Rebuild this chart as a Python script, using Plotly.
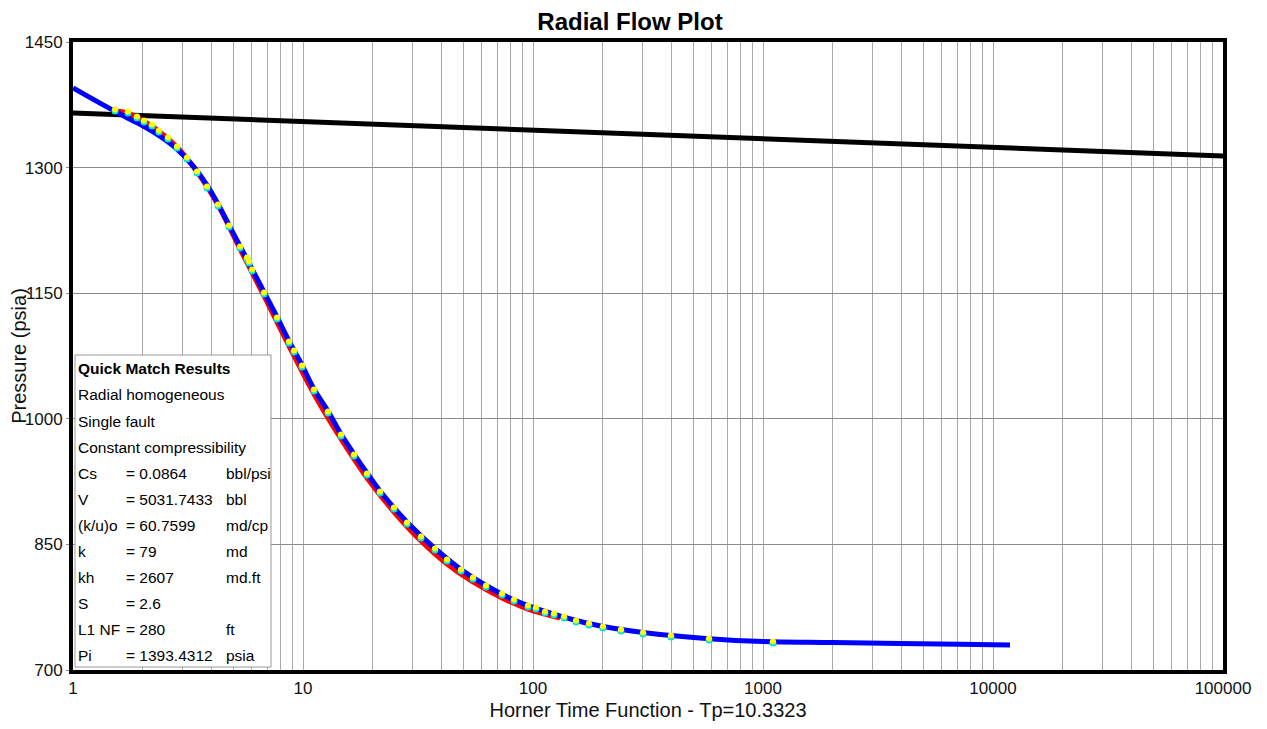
import plotly.graph_objects as go

# ---- data ----
# measured points (Horner time function, pressure psia)
data_x = [1.523, 1.735, 1.898, 2.035, 2.206, 2.365, 2.588, 2.833, 3.131, 3.461,
          3.825, 4.270, 4.767, 5.322, 5.707, 5.823, 6.001, 6.767, 7.709, 8.694,
          9.140, 9.901, 11.16, 12.84, 14.63, 16.66, 18.98, 21.62, 24.87, 28.33,
          32.59, 37.49, 42.27, 48.64, 54.83, 62.48, 73.32, 82.70, 95.13, 103.0,
          112.8, 123.4, 136.4, 153.8, 175.2, 201.5, 241.3, 300.9, 398.1, 582.5, 1105]
data_y = [1367.6, 1365.2, 1359.2, 1354.5, 1349.7, 1342.5, 1334.2, 1323.4, 1310.3, 1293.6,
          1275.6, 1254.1, 1229.1, 1204.0, 1190.8, 1186.1, 1176.5, 1149.0, 1119.2, 1090.5,
          1079.8, 1061.9, 1033.2, 1006.9, 979.5, 955.6, 932.9, 911.4, 892.3, 874.4,
          857.6, 843.3, 830.2, 818.2, 808.7, 799.1, 789.6, 782.4, 775.2, 772.9,
          768.1, 765.7, 762.1, 757.3, 753.7, 750.2, 746.6, 743.0, 739.4, 735.8, 732.2]

# model curve (blue)
model_x = [1, 1.310, 1.718, 2.056, 2.389, 2.833, 3.324, 3.825, 4.270, 4.767,
           5.322, 6.001, 6.767, 7.709, 8.694, 9.901, 11.16, 12.84, 14.63, 16.66,
           18.98, 21.62, 28.33, 37.49, 48.64, 62.48, 82.70, 112.8, 153.8, 201.5,
           300.9, 582.5, 1000, 2000, 3942, 7188, 11854]
model_y = [1395.1, 1377.0, 1359.5, 1348.5, 1337.5, 1322.0, 1302.0, 1279.0, 1256.5, 1231.4,
           1206.4, 1178.9, 1151.4, 1121.6, 1092.9, 1064.2, 1035.6, 1009.3, 981.8, 957.9,
           935.3, 913.8, 876.7, 845.1, 820.0, 800.9, 783.6, 769.9, 759.1, 751.9,
           744.8, 737.4, 734.0, 732.8, 731.6, 730.7, 729.8]

# red curve
red_x = [1.492, 1.735, 2.035, 2.365, 2.833, 3.461, 4.270, 5.322, 6.767, 8.694,
         11.16, 14.63, 18.98, 24.87, 32.59, 42.27, 54.83, 73.32, 95.13, 131.1]
red_y = [1368.0, 1365.0, 1355.5, 1343.5, 1324.5, 1295.0, 1255.3, 1202.8, 1146.7, 1086.9,
         1029.6, 975.9, 929.3, 888.7, 854.1, 826.6, 805.1, 786.0, 772.8, 762.1]

# straight semilog line
line_x = [1, 100000]
line_y = [1365.2, 1313.9]

# axes
x_decades = [1, 10, 100, 1000, 10000, 100000]
x_labels = ["1", "10", "100", "1000", "10000", "100000"]
y_ticks = [700, 850, 1000, 1150, 1300, 1450]
y_range = [700, 1450]

# results box
results_title = "Quick Match Results"
results_lines = ["Radial homogeneous", "Single fault", "Constant compressibility"]
param_names = ["Cs", "V", "(k/u)o", "k", "kh", "S", "L1 NF", "Pi"]
param_values = ["= 0.0864", "= 5031.7433", "= 60.7599", "= 79", "= 2607", "= 2.6", "= 280", "= 1393.4312"]
param_units = ["bbl/psi", "bbl", "md/cp", "md", "md.ft", "", "ft", "psia"]

# ---- figure ----
FONT = "Liberation Sans, Arial, sans-serif"
OFF = 8                      # page body margin of the browser
W, H = 1267 - 2 * OFF, 729 - 2 * OFF
PL, PT, PR, PB = 73, 42, 1223, 670   # plot frame in window pixels
L, T = PL - OFF, PT - OFF
R, B = W - (PR - OFF), H - (PB - OFF)
PW, PH = PR - PL, PB - PT
PSI_PER_PX = (y_range[1] - y_range[0]) / PH

tick_vals = []
tick_text = []
for d, lab in zip(x_decades, x_labels):
    tick_vals.append(d)
    tick_text.append(lab)
    if d < 100000:
        for m in range(2, 10):
            tick_vals.append(d * m)
            tick_text.append("")

fig = go.Figure()
fig.add_trace(go.Scatter(x=line_x, y=line_y, mode="lines",
                         line=dict(color="black", width=5), hoverinfo="skip"))
fig.add_trace(go.Scatter(x=red_x, y=red_y, mode="lines",
                         line=dict(color="#ff0000", width=5, shape="spline"), hoverinfo="skip"))
fig.add_trace(go.Scatter(x=model_x, y=model_y, mode="lines",
                         line=dict(color="#0000ff", width=5, shape="spline")))
# data points: cyan disc with a yellow disc drawn slightly higher on an overlay axis
fig.add_trace(go.Scatter(x=data_x, y=data_y, mode="markers",
                         marker=dict(size=7, color="#00e0e0", line=dict(width=0))))
fig.add_trace(go.Scatter(x=data_x, y=data_y, mode="markers", yaxis="y2",
                         marker=dict(size=6, color="#ffff00", line=dict(width=0))))

def px2x(px):
    return (px - PL) / PW

def py2y(py):
    return (PB - py) / PH

# results box
fig.add_shape(type="rect", xref="paper", yref="paper",
              x0=px2x(75), x1=px2x(271), y0=py2y(667), y1=py2y(355),
              fillcolor="white", line=dict(color="#999999", width=1), layer="above")

row_y = [368, 395, 421, 447, 473, 499, 525, 551, 577, 603, 629, 655]
ann = []
ann.append(dict(text="<b>" + results_title + "</b>", x=px2x(76), y=py2y(row_y[0])))
for i, t in enumerate(results_lines):
    ann.append(dict(text=t, x=px2x(76), y=py2y(row_y[1 + i])))
for i, (n, v, u) in enumerate(zip(param_names, param_values, param_units)):
    yy = py2y(row_y[4 + i])
    ann.append(dict(text=n, x=px2x(76), y=yy))
    ann.append(dict(text=v, x=px2x(124), y=yy))
    if u:
        ann.append(dict(text=u, x=px2x(224), y=yy))
for a in ann:
    a.update(xref="paper", yref="paper", xanchor="left", yanchor="middle",
             showarrow=False, font=dict(family=FONT, size=15.5, color="black"))
fig.update_layout(annotations=ann)

shift = 1.5 * PSI_PER_PX
fig.update_layout(
    width=W, height=H,
    margin=dict(l=L, r=R, t=T, b=B, pad=0),
    paper_bgcolor="white", plot_bgcolor="white",
    showlegend=False,
    font=dict(family=FONT, color="#111111"),
    title=dict(text="<b>Radial Flow Plot</b>", x=(630 - OFF) / W, xanchor="center",
               y=1 - (22 - OFF) / H, yanchor="middle",
               font=dict(family=FONT, size=24, color="black")),
    xaxis=dict(type="log", range=[0, 5], tickvals=tick_vals, ticktext=tick_text,
               showgrid=True, gridcolor="#a8a8a8", gridwidth=1,
               showline=True, linecolor="black", linewidth=4, mirror=True,
               ticks="", tickfont=dict(size=17, color="#111111"),
               title=dict(text="Horner Time Function - Tp=10.3323",
                          font=dict(size=20, color="#111111"), standoff=10),
               zeroline=False, automargin=False),
    yaxis=dict(range=y_range, tickvals=y_ticks,
               showgrid=True, gridcolor="#8c8c8c", gridwidth=1,
               showline=True, linecolor="black", linewidth=4, mirror=True,
               ticks="outside", ticklen=3, tickcolor="#8c8c8c",
               tickfont=dict(size=17, color="#111111"),
               title=dict(text="Pressure (psia)",
                          font=dict(size=20, color="#111111"), standoff=8),
               zeroline=False, automargin=False),
    yaxis2=dict(overlaying="y", range=[y_range[0] - shift, y_range[1] - shift],
                visible=False, showgrid=False, automargin=False),
)

fig.write_html("out.html")
